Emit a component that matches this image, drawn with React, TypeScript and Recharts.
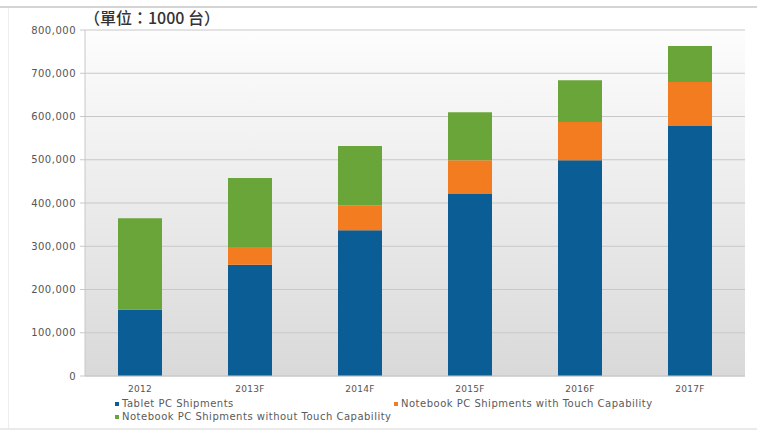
import React from "react";
import { Bar, BarChart, CartesianGrid, Legend, XAxis, YAxis } from "recharts";

const years = ["2012", "2013F", "2014F", "2015F", "2016F", "2017F"];
const tabletShipments = [153000, 257000, 337000, 421000, 499000, 578000];
const notebookTouch = [0, 41000, 58000, 78000, 88000, 102000];
const notebookNoTouch = [212000, 160000, 137000, 111000, 97000, 83000];
const yTicks = [0, 100000, 200000, 300000, 400000, 500000, 600000, 700000, 800000];

const seriesNames = [
  "Tablet PC Shipments",
  "Notebook PC Shipments with Touch Capability",
  "Notebook PC Shipments without Touch Capability",
];
const colors = ["#0b5d95", "#f47c20", "#6aa53a"];

const data = years.map((year, i) => ({
  year,
  tablet: tabletShipments[i],
  touch: notebookTouch[i],
  noTouch: notebookNoTouch[i],
}));

const font = '"DejaVu Sans", Verdana, sans-serif';

// legend slots: [left, top] inside the legend box
const legendSlots = [
  [115, 0],
  [394, 0],
  [115, 13],
];

function ChartLegend() {
  return (
    <div style={{ position: "relative", height: 0 }}>
      {seriesNames.map((name, i) => (
        <div
          key={name}
          style={{
            position: "absolute",
            left: legendSlots[i][0],
            top: legendSlots[i][1],
            display: "flex",
            alignItems: "center",
            whiteSpace: "nowrap",
            fontFamily: font,
            fontSize: 10,
            letterSpacing: 0.5,
            color: "#5a5a5a",
            lineHeight: "12px",
          }}
        >
          <span style={{ width: 4, height: 4, background: colors[i], marginRight: 3, flexShrink: 0 }} />
          {name}
        </div>
      ))}
    </div>
  );
}

export default function App() {
  return (
    <div style={{ position: "relative", width: 757, height: 432, background: "#fff" }}>
      <style>{"body{margin:0}"}</style>
      <div style={{ position: "absolute", left: 0, top: 6, width: 757, height: 2, background: "#d4d4d4" }} />
      <div style={{ position: "absolute", left: 8, top: 8, width: 1, height: 420, background: "#eeeeee" }} />
      <div style={{ position: "absolute", left: 0, top: 428, width: 757, height: 2, background: "#eaeaea" }} />
      <BarChart
        width={757}
        height={432}
        data={data}
        margin={{ top: 30, right: 12, left: 0, bottom: 36 }}
        barSize={44}
        style={{ position: "absolute", left: 0, top: 0 }}
      >
        <defs>
          <linearGradient id="plotBg" x1="0" y1="0" x2="0" y2="1">
            <stop offset="0%" stopColor="#fdfdfd" />
            <stop offset="100%" stopColor="#d9d9d9" />
          </linearGradient>
        </defs>
        <text x={84} y={24} fontFamily='"Noto Sans CJK TC", sans-serif' fontSize={16} fontWeight={500} fill="#333">
          （單位：1000 台）
        </text>
        <CartesianGrid vertical={false} stroke="#c8c8c8" fill="url(#plotBg)" fillOpacity={1} />
        <XAxis
          dataKey="year"
          height={20}
          tickLine={false}
          axisLine={{ stroke: "#c8c8c8" }}
          tickMargin={4}
          tick={{ fontSize: 9, fill: "#555", fontFamily: font, letterSpacing: 0.3 }}
        />
        <YAxis
          width={85}
          domain={[0, 800000]}
          ticks={yTicks}
          tickFormatter={(v: number) => v.toLocaleString("en-US")}
          tickSize={5}
          tickMargin={4}
          tickLine={{ stroke: "#c8c8c8" }}
          axisLine={{ stroke: "#c8c8c8" }}
          tick={{ fontSize: 10, fill: "#555", fontFamily: font, letterSpacing: 0.5 }}
        />
        <YAxis
          yAxisId="frame"
          orientation="right"
          width={0}
          domain={[0, 800000]}
          tick={false}
          tickLine={false}
          axisLine={{ stroke: "#dcdcdc" }}
        />
        <Legend
          verticalAlign="bottom"
          content={() => <ChartLegend />}
          wrapperStyle={{ top: 398, left: 0, width: 757, height: 0 }}
        />
        <Bar dataKey="tablet" name={seriesNames[0]} stackId="a" fill={colors[0]} isAnimationActive={false} />
        <Bar dataKey="touch" name={seriesNames[1]} stackId="a" fill={colors[1]} isAnimationActive={false} />
        <Bar dataKey="noTouch" name={seriesNames[2]} stackId="a" fill={colors[2]} isAnimationActive={false} />
      </BarChart>
    </div>
  );
}
